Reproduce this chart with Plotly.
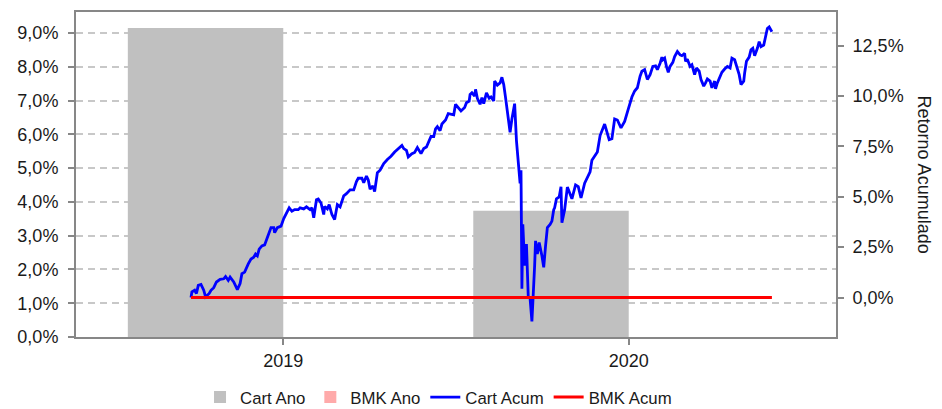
import pandas as pd
import plotly.graph_objects as go

# ---- data ----
years = ["2019", "2020"]
cart_ano = [9.15, 3.74]          # % (left axis)
bmk_ano = [0.0, 0.0]

start_date = "2019-03-14"
cart_days = [0, 1, 4, 6, 8, 11, 14, 16, 20, 22, 25, 28, 32, 36, 38, 41, 43, 47, 51, 54,
             56, 59, 63, 66, 69, 71, 73, 75, 78, 81, 84, 88, 91, 92, 95, 99, 102, 105, 108, 111,
             114, 118, 120, 124, 127, 131, 133, 135, 138, 140, 143, 146, 147, 150, 152, 155, 158, 161, 164, 168,
             171, 175, 179, 182, 184, 188, 190, 193, 195, 197, 200, 202, 205, 208, 212, 216, 220, 224, 228, 232,
             234, 237, 239, 243, 246, 249, 253, 256, 259, 262, 264, 267, 269, 271, 274, 276, 280, 283, 286, 289,
             291, 294, 297, 301, 303, 306, 307, 309, 312, 313, 315, 318, 320, 322, 325, 328, 330, 333, 334, 337,
             340, 342, 344, 346, 349, 351, 353, 356, 358, 361, 362, 363, 364, 365, 367, 369, 371, 373, 375, 378,
             379, 381, 383, 386, 388, 390, 392, 395, 397, 399, 400, 402, 405, 407, 408, 411, 414, 419, 423, 426,
             429, 433, 436, 439, 441, 444, 447, 450, 455, 460, 463, 466, 469, 473, 477, 481, 485, 488, 491, 494,
             496, 499, 502, 505, 508, 511, 513, 516, 518, 519, 521, 523, 525, 527, 530, 532, 535, 538, 540, 543,
             544, 546, 549, 551, 554, 556, 559, 561, 564, 566, 568, 571, 573, 576, 577, 579, 582, 584, 587, 590,
             593, 595, 598, 601, 603, 605, 608, 609, 611, 614, 616, 618, 620, 623, 625, 627, 630, 632, 634, 636,
             639]
cart_acum = [0.00, 0.28, 0.36, 0.20, 0.60, 0.65, 0.36, 0.03, 0.20, 0.36, 0.49, 0.77, 0.90, 0.93, 1.04, 0.85, 1.01, 0.77, 0.39, 0.69,
             1.18, 1.26, 1.67, 1.91, 2.00, 2.16, 2.07, 2.40, 2.56, 2.61, 2.98, 3.47, 3.47, 3.22, 3.47, 3.54, 3.92, 4.20, 4.45, 4.28,
             4.36, 4.36, 4.45, 4.40, 4.50, 4.36, 4.45, 3.96, 4.85, 4.89, 4.69, 4.12, 4.52, 4.40, 4.61, 4.12, 3.87, 4.61, 4.50, 5.05,
             5.15, 5.34, 5.34, 5.75, 5.92, 5.92, 5.70, 6.03, 5.83, 5.38, 5.54, 5.26, 6.19, 6.32, 6.65, 6.85, 7.01, 7.22, 7.39, 7.55,
             7.39, 7.30, 6.98, 7.14, 7.20, 7.44, 7.14, 7.39, 7.47, 7.79, 7.99, 7.99, 8.37, 8.48, 8.28, 8.61, 8.81, 9.13, 9.10, 9.07,
             9.59, 9.40, 9.26, 9.43, 9.67, 9.75, 10.08, 10.16, 10.00, 10.33, 9.89, 9.59, 9.92, 9.62, 10.16, 9.89, 9.95, 9.75, 10.74, 10.54,
             10.65, 10.93, 10.57, 9.92, 8.86, 8.20, 8.86, 9.62, 7.79, 6.32, 5.67, 6.32, 0.44, 3.63, 1.58, 2.65, 0.03, -0.05, -1.19, 1.58,
             2.81, 2.16, 2.73, 2.07, 1.50, 2.56, 3.47, 3.63, 3.79, 4.36, 4.45, 4.90, 4.99, 5.50, 3.71, 4.36, 5.48, 4.90, 5.59, 5.50,
             4.94, 5.67, 6.00, 6.24, 6.81, 7.01, 7.22, 8.04, 8.61, 7.83, 7.88, 8.86, 8.81, 8.42, 8.74, 9.35, 9.95, 10.25, 10.41, 10.98,
             11.23, 11.31, 10.82, 11.06, 11.47, 11.50, 11.31, 11.63, 11.93, 11.80, 11.88, 11.47, 11.18, 11.47, 11.67, 11.96, 12.21, 12.04, 12.00, 12.12,
             11.72, 11.83, 11.47, 11.55, 11.06, 11.39, 11.23, 10.82, 10.49, 10.65, 10.85, 10.74, 10.41, 10.74, 10.36, 10.65, 11.01, 11.18, 11.34, 11.47,
             11.39, 11.88, 11.80, 11.31, 11.06, 10.57, 10.74, 11.14, 11.72, 11.93, 12.29, 12.37, 12.00, 12.37, 12.70, 12.45, 12.53, 12.94, 13.35, 13.43,
             13.19]
bmk_days = [0, 639]
bmk_acum = [0.0, 0.0]

left_ticks = [0, 1, 2, 3, 4, 5, 6, 7, 8, 9]
left_labels = ["0,0%", "1,0%", "2,0%", "3,0%", "4,0%", "5,0%", "6,0%", "7,0%", "8,0%", "9,0%"]
right_ticks = [0, 2.5, 5, 7.5, 10, 12.5]
right_labels = ["0,0%", "2,5%", "5,0%", "7,5%", "10,0%", "12,5%"]

# ---- figure ----
start = pd.Timestamp(start_date)
cart_x = start + pd.to_timedelta(cart_days, unit="D")
bmk_x = start + pd.to_timedelta(bmk_days, unit="D")

FONT = "Liberation Sans, Arial, sans-serif"
AX = "#878787"
TXT = "#1a1a1a"

fig = go.Figure()
fig.add_trace(go.Bar(x=[0, 1], y=cart_ano, name="Cart Ano", marker_color="#C0C0C0",
                     marker_line_width=0, xaxis="x", yaxis="y"))
fig.add_trace(go.Bar(x=[0, 1], y=bmk_ano, name="BMK Ano", marker_color="#FFAAAA",
                     marker_line_width=0, xaxis="x", yaxis="y"))
fig.add_trace(go.Scatter(x=cart_x, y=cart_acum, name="Cart Acum", mode="lines",
                         line=dict(color="#0000FF", width=2.8), xaxis="x2", yaxis="y2"))
fig.add_trace(go.Scatter(x=bmk_x, y=bmk_acum, name="BMK Acum", mode="lines",
                         line=dict(color="#FF0000", width=3), xaxis="x2", yaxis="y2"))

x2_range = [start + pd.Timedelta(days=-126.5), start + pd.Timedelta(days=709.5)]

fig.update_layout(
    width=934, height=409,
    margin=dict(l=68, r=106, t=2, b=78),
    paper_bgcolor="white", plot_bgcolor="white",
    font=dict(family=FONT, size=18, color=TXT),
    barmode="group", bargap=0.1, bargroupgap=0,
    showlegend=True,
    legend=dict(orientation="h", x=0.477, xanchor="center", y=-0.185, yanchor="middle",
                font=dict(size=16.8, color=TXT), itemwidth=30,
                traceorder="normal"),
    xaxis=dict(range=[-0.6, 1.6], tickvals=[0, 1], ticktext=years,
               showline=True, linecolor=AX, linewidth=2, mirror=True,
               ticks="outside", ticklen=6, tickwidth=2, tickcolor=AX,
               showgrid=False, zeroline=False, tickfont=dict(size=18, color=TXT)),
    xaxis2=dict(overlaying="x", type="date", range=x2_range, visible=False),
    yaxis=dict(range=[0, 9.62], tickvals=left_ticks, ticktext=left_labels,
               showline=True, linecolor=AX, linewidth=2,
               ticks="outside", ticklen=6, tickwidth=2, tickcolor=AX, ticklabelstandoff=6,
               showgrid=True, gridcolor="#C8C8C8", gridwidth=1.5, griddash="7px,5px",
               zeroline=False, tickfont=dict(size=18, color=TXT)),
    yaxis2=dict(range=[-1.96, 14.17], overlaying="y", side="right",
                tickvals=right_ticks, ticktext=right_labels,
                showline=True, linecolor=AX, linewidth=2,
                ticks="outside", ticklen=6, tickwidth=2, tickcolor=AX, ticklabelstandoff=5,
                showgrid=False, zeroline=False, tickfont=dict(size=18, color=TXT)),
    annotations=[dict(text="Retorno Acumulado", xref="paper", yref="paper",
                      x=1.117, y=0.5, xanchor="center", yanchor="middle",
                      textangle=90, showarrow=False, font=dict(size=18, color=TXT))],
)

fig.write_html("out.html")
